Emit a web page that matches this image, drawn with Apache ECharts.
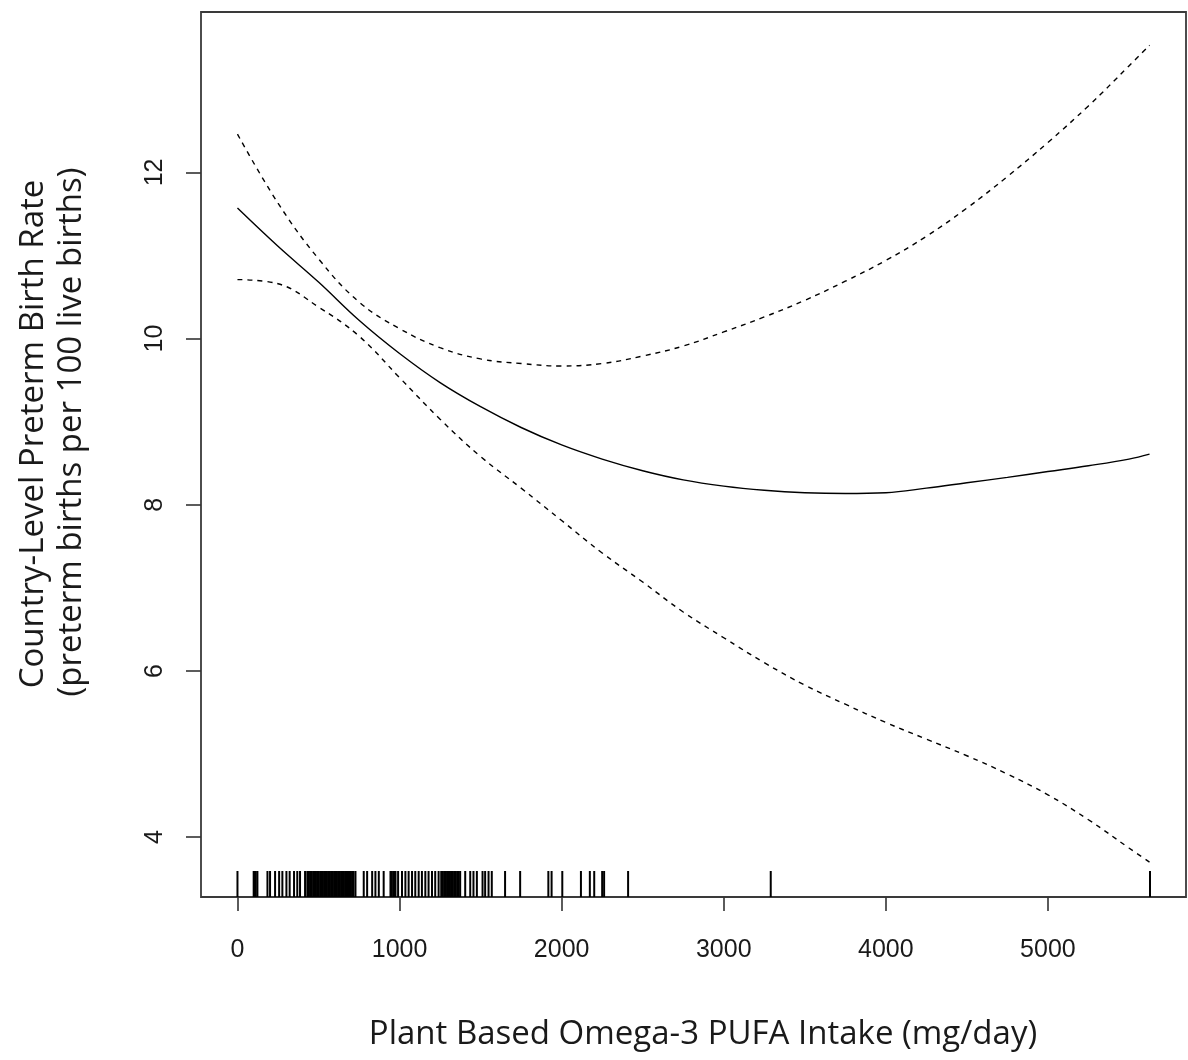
<!DOCTYPE html>
<html>
<head>
<meta charset="utf-8">
<script src="https://cdn.jsdelivr.net/npm/echarts@6/dist/echarts.min.js"></script>
<style>
html,body{margin:0;padding:0;background:#fff;}
#chart{width:1188px;height:1060px;}
</style>
</head>
<body>
<div id="chart"></div>
<script>
// ---- data ----
var intake = [0, 250, 500, 750, 1000, 1250, 1500, 1750, 2000, 2250, 2500, 2750, 3000, 3250, 3500, 3750, 4000, 4250, 4500, 4750, 5000, 5250, 5500, 5627];
var fitRate = [11.57, 11.11, 10.68, 10.22, 9.82, 9.47, 9.18, 8.93, 8.72, 8.55, 8.41, 8.30, 8.225, 8.175, 8.145, 8.135, 8.145, 8.20, 8.265, 8.33, 8.40, 8.47, 8.55, 8.61];
var upperRate = [12.46, 11.63, 10.96, 10.44, 10.12, 9.89, 9.755, 9.70, 9.67, 9.70, 9.79, 9.91, 10.08, 10.26, 10.46, 10.69, 10.94, 11.23, 11.57, 11.95, 12.36, 12.80, 13.28, 13.53];
var lowerRate = [10.71, 10.66, 10.38, 10.03, 9.53, 9.03, 8.58, 8.20, 7.81, 7.42, 7.07, 6.71, 6.40, 6.10, 5.83, 5.60, 5.38, 5.18, 4.98, 4.76, 4.51, 4.21, 3.87, 3.70];
var rugIntake = [0, 100, 108, 113, 123, 185, 201, 232, 257, 277, 302, 322, 349, 369, 386, 417, 431,
  441, 450, 458, 467, 476, 484, 492, 501, 510, 518, 527, 535, 544, 552, 561, 570, 578, 587, 596, 604, 613, 621, 630, 639, 647, 656, 664, 673, 682, 690, 699, 707, 716,
  728, 779, 800, 831, 851, 872, 902, 944, 952, 961, 968, 975, 991, 1015, 1036, 1056, 1077, 1097, 1118, 1138, 1159, 1179, 1200, 1220, 1241,
  1257, 1266, 1275, 1284, 1293, 1302, 1311, 1320, 1329, 1338, 1347, 1356, 1365, 1374,
  1405, 1436, 1456, 1477, 1512, 1528, 1549, 1569, 1651, 1744, 1918, 1938, 2004, 2119, 2174, 2201, 2250, 2262, 2410, 3290, 5630];
var xTicks = [0, 1000, 2000, 3000, 4000, 5000];
var yTicks = [4, 6, 8, 10, 12];
var xTitle = 'Plant Based Omega-3 PUFA Intake (mg/day)';
var yTitle1 = 'Country-Level Preterm Birth Rate';
var yTitle2 = '(preterm births per 100 live births)';

var X_MIN = -225, X_MAX = 5852, Y_MIN = 3.28, Y_MAX = 13.93;

function pairs(xs, ys){ return xs.map(function(x,i){ return [x, ys[i]]; }); }

var chart = echarts.init(document.getElementById('chart'), null, {renderer:'canvas'});
var tickStyle = {color:'#333', width:1.6};
var labelFont = {fontFamily:'Liberation Sans, Arial, sans-serif', fontSize:25, color:'#1a1a1a'};
var titleFont = '"Open Sans", sans-serif';
function plain(v){ return String(v); }

chart.setOption({
  animation:false,
  backgroundColor:'#fff',
  grid:{left:201, top:12, right:2, bottom:163, show:true, borderColor:'#3a3a3a', borderWidth:1.8, backgroundColor:'transparent'},
  xAxis:{
    type:'value', min:X_MIN, max:X_MAX,
    axisLine:{show:false, onZero:false},
    splitLine:{show:false},
    axisTick:{show:true, customValues:xTicks, length:14, lineStyle:tickStyle},
    axisLabel:Object.assign({customValues:xTicks, margin:41, formatter:plain}, labelFont)
  },
  yAxis:{
    type:'value', min:Y_MIN, max:Y_MAX,
    axisLine:{show:false, onZero:false},
    splitLine:{show:false},
    axisTick:{show:true, customValues:yTicks, length:15, lineStyle:tickStyle},
    axisLabel:Object.assign({customValues:yTicks, rotate:90, margin:33, formatter:plain}, labelFont)
  },
  graphic:[
    {type:'text', x:703, y:1035, style:{text:xTitle, font:'33px '+titleFont, fill:'#1a1a1a', textAlign:'center', textVerticalAlign:'middle'}},
    {type:'text', x:34, y:434, rotation:Math.PI/2, style:{text:yTitle1, font:'33px '+titleFont, fill:'#1a1a1a', textAlign:'center', textVerticalAlign:'middle'}},
    {type:'text', x:72, y:432, rotation:Math.PI/2, style:{text:yTitle2, font:'33px '+titleFont, fill:'#1a1a1a', textAlign:'center', textVerticalAlign:'middle'}}
  ],
  series:[
    {type:'line', data:pairs(intake, fitRate), symbol:'none', smooth:0.4, lineStyle:{color:'#000', width:1.4}},
    {type:'line', data:pairs(intake, upperRate), symbol:'none', smooth:0.4, lineStyle:{color:'#000', width:1.4, type:[5,5]}},
    {type:'line', data:pairs(intake, lowerRate), symbol:'none', smooth:0.4, lineStyle:{color:'#000', width:1.4, type:[5,5]}},
    {type:'custom', data:rugIntake.map(function(v){return [v];}),
      renderItem:function(params, api){
        var p = api.coord([api.value(0), Y_MIN]);
        return {type:'line', shape:{x1:p[0], y1:p[1], x2:p[0], y2:p[1]-26}, style:{stroke:'#000', lineWidth:2}};
      },
      encode:{x:0}
    }
  ]
});
</script>
</body>
</html>
